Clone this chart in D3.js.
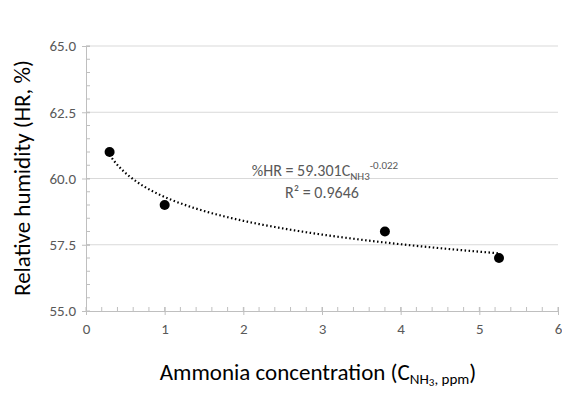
<!DOCTYPE html>
<html><head><meta charset="utf-8">
<script src="https://cdn.jsdelivr.net/npm/d3@7"></script>
<style>body{margin:0;background:#fff}text{font-family:Calibri,Carlito,"Open Sans",sans-serif}</style>
</head><body><div id="chart"></div>
<script>
var xs = [0.3, 1, 3.8, 5.25];
var ys = [61, 59, 58, 57];
var xTicks = [0, 1, 2, 3, 4, 5, 6];
var yTicks = [55, 57.5, 60, 62.5, 65];
// trendline from the equation shown on the chart: %HR = 59.301 C^-0.022
var fitA = 59.301, fitB = -0.022;

var W = 562, H = 401;
var x = d3.scaleLinear().domain([0, 6]).range([86, 558]);
var y = d3.scaleLinear().domain([55, 65]).range([311, 46]);

var svg = d3.select("#chart").append("svg").attr("width", W).attr("height", H);

svg.selectAll(".grid").data(yTicks.slice(1)).enter().append("line")
  .attr("x1", x(0)).attr("x2", x(6)).attr("y1", d => y(d)).attr("y2", d => y(d))
  .attr("stroke", "#d9d9d9").attr("stroke-width", 1);

// minor ticks
svg.selectAll(".mx").data(d3.range(0, 6.001, 0.2)).enter().append("line")
  .attr("x1", d => x(d)).attr("x2", d => x(d)).attr("y1", y(55)).attr("y2", y(55) - 4)
  .attr("stroke", "#bfbfbf");
svg.selectAll(".my").data(d3.range(55, 65.001, 0.5)).enter().append("line")
  .attr("x1", x(0)).attr("x2", x(0) + 4).attr("y1", d => y(d)).attr("y2", d => y(d))
  .attr("stroke", "#bfbfbf");

var xa = svg.append("g").attr("transform", "translate(0," + y(55) + ")")
  .call(d3.axisBottom(x).tickValues(xTicks).tickSize(4).tickSizeOuter(0).tickFormat(d3.format("d")).tickPadding(8));
var ya = svg.append("g").attr("transform", "translate(" + x(0) + ",0)")
  .call(d3.axisLeft(y).tickValues(yTicks).tickSize(4).tickSizeOuter(0).tickFormat(d3.format(".1f")).tickPadding(6));
[xa, ya].forEach(function(a){
  a.selectAll("path,line").attr("stroke", "#bfbfbf");
  a.selectAll("text").attr("fill", "#595959").style("font-size", "15px");
});
xa.selectAll("line").attr("y1", -4).attr("y2", 4);
ya.selectAll("line").attr("x1", 4).attr("x2", -4);

var fitX = d3.range(xs[0], xs[xs.length - 1] + 0.001, 0.05);
svg.append("path").datum(fitX)
  .attr("d", d3.line().x(d => x(d)).y(d => y(fitA * Math.pow(d, fitB))))
  .attr("fill", "none").attr("stroke", "#000").attr("stroke-width", 2.2)
  .attr("stroke-dasharray", "1.5,2.5");

svg.selectAll(".pt").data(xs).enter().append("circle")
  .attr("cx", d => x(d)).attr("cy", (d, i) => y(ys[i])).attr("r", 5).attr("fill", "#000");

var eq = svg.append("text").attr("x", 325).attr("y", 176).attr("text-anchor", "middle")
  .attr("fill", "#595959").style("font-size", "16px");
eq.append("tspan").text("%HR = 59.301C");
eq.append("tspan").text("NH3").style("font-size", "11px").attr("dy", 4);
eq.append("tspan").text("-0.022").style("font-size", "11px").attr("dy", -11);
svg.append("text").attr("x", 322).attr("y", 198).attr("text-anchor", "middle")
  .attr("fill", "#595959").style("font-size", "16px").text("R² = 0.9646");

var xl = svg.append("text").attr("x", 318).attr("y", 380).attr("text-anchor", "middle")
  .attr("fill", "#000").style("font-size", "23px");
xl.append("tspan").text("Ammonia concentration (C");
xl.append("tspan").text("NH").style("font-size", "15px").attr("dy", 4);
xl.append("tspan").text("3").style("font-size", "11px").attr("dy", 2);
xl.append("tspan").text(", ppm").style("font-size", "15px").attr("dy", -2);
xl.append("tspan").text(")").attr("dy", -4);

svg.append("text").attr("transform", "translate(30,178) rotate(-90)").attr("text-anchor", "middle")
  .attr("fill", "#000").style("font-size", "23px").text("Relative humidity (HR, %)");
</script></body></html>
